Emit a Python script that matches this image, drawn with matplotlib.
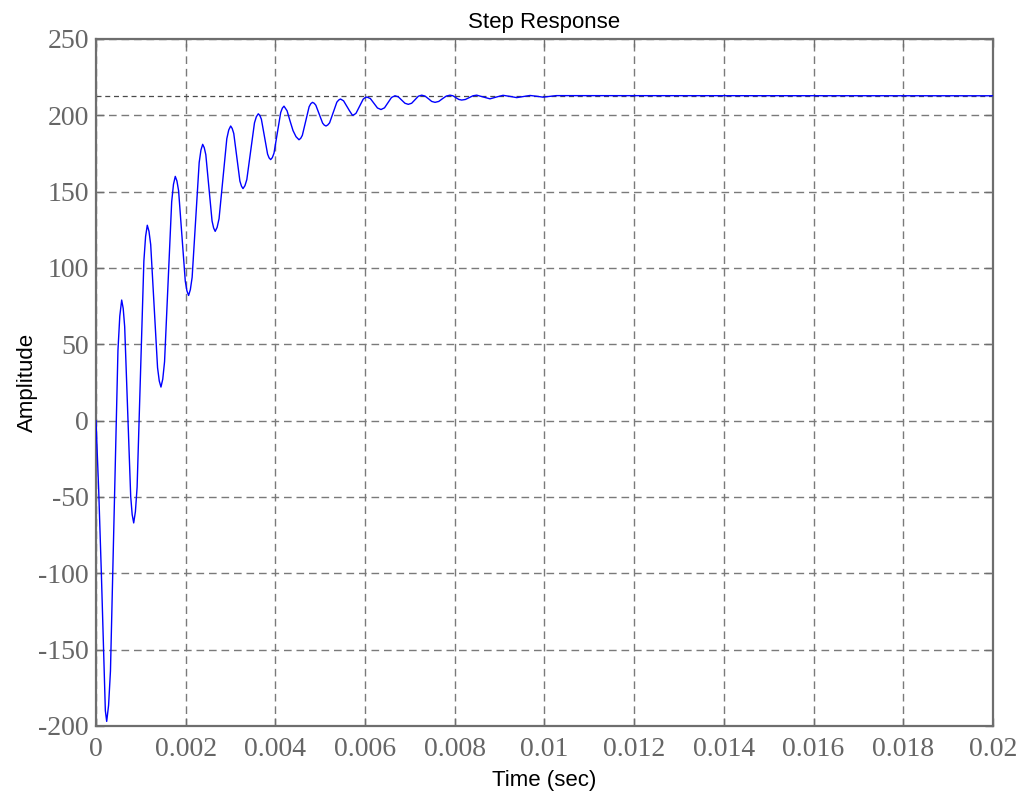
import numpy as np
import matplotlib.pyplot as plt

plt.rcParams['axes.unicode_minus'] = False

# Step response samples (time in ms, amplitude)
t_ms = [0.0, 0.06, 0.12, 0.18, 0.209, 0.239,
        0.281, 0.323, 0.406, 0.490, 0.531, 0.573,
        0.607, 0.640, 0.707, 0.774, 0.807, 0.841,
        0.879, 0.917, 0.993, 1.068, 1.106, 1.144,
        1.182, 1.220, 1.297, 1.373, 1.411, 1.449,
        1.489, 1.529, 1.609, 1.688, 1.728, 1.768,
        1.805, 1.842, 1.917, 1.991, 2.028, 2.065,
        2.104, 2.144, 2.222, 2.301, 2.340, 2.379,
        2.414, 2.449, 2.519, 2.588, 2.623, 2.658,
        2.701, 2.744, 2.831, 2.917, 2.960, 3.003,
        3.037, 3.072, 3.141, 3.209, 3.244, 3.278,
        3.321, 3.363, 3.449, 3.534, 3.576, 3.619,
        3.654, 3.688, 3.757, 3.826, 3.860, 3.895,
        3.932, 3.969, 4.044, 4.118, 4.155, 4.192,
        4.26, 4.33, 4.393, 4.46, 4.526,
        4.564, 4.601, 4.677, 4.752, 4.789, 4.827,
        4.865, 4.902, 4.978, 5.053, 5.090, 5.128,
        5.168, 5.209, 5.290, 5.370, 5.411, 5.451,
        5.52, 5.59, 5.652, 5.719,
        5.759, 5.799, 5.879, 5.958, 5.998, 6.038,
        6.117, 6.197, 6.276, 6.355,
        6.433, 6.511, 6.589, 6.667,
        6.741, 6.815, 6.889, 6.963,
        7.038, 7.113, 7.187, 7.262,
        7.336, 7.411, 7.485, 7.559,
        7.643, 7.726, 7.810, 7.893,
        7.958, 8.024, 8.089, 8.154,
        8.238, 8.321, 8.405, 8.488,
        8.64, 8.785, 8.93, 9.075,
        9.23, 9.380, 9.53, 9.677,
        9.82, 9.967, 10.11, 10.26,
        20.0]
amp = [0, -45, -100, -160, -190, -197,
       -186.5, -164, -59, 46, 68.5, 79,
       73.5, 61.5, 6, -49.5, -61.5, -67,
       -59.6, -43.6, 30.5, 104.6, 120.6, 128,
       124, 115.3, 75, 34.7, 26, 22,
       27.2, 38.6, 91, 143.4, 154.8, 160,
       157, 150.6, 121, 91.4, 85, 82,
       85.8, 93.9, 131.5, 169.1, 177.2, 181,
       178.8, 174.2, 152.5, 130.8, 126.2, 124,
       126.6, 132.3, 158.5, 184.7, 190.4, 193,
       191.4, 188.1, 172.5, 156.9, 153.6, 152,
       153.9, 157.9, 176.5, 195.1, 199.1, 201,
       199.9, 197.4, 186, 174.6, 172.1, 171,
       172.3, 175.2, 188.5, 201.8, 204.7, 206,
       203, 196, 190, 186, 184,
       184.9, 186.9, 196.3, 205.6, 207.6, 208.5,
       207.9, 206.6, 200.8, 194.9, 193.6, 193,
       193.7, 195.1, 201.9, 208.6, 210, 210.7,
       209.5, 206, 203, 200,
       200.5, 201.4, 206, 210.6, 211.5, 212,
       211, 207.9, 204.8, 203.8,
       204.9, 208.3, 211.7, 212.8,
       212.1, 210, 207.9, 207.2,
       207.9, 210.2, 212.5, 213.2,
       212.6, 210.9, 209.1, 208.5,
       209.1, 210.9, 212.6, 213.2,
       212.8, 211.6, 210.4, 210,
       210.4, 211.6, 212.8, 213.2,
       212.0, 210.8, 212.0, 213.1,
       212.4, 211.6, 212.3, 213.0,
       212.5, 211.9, 212.4, 212.9,
       212.8]
final_value = 212.8

x_ticks = [0, 0.002, 0.004, 0.006, 0.008, 0.01, 0.012, 0.014, 0.016, 0.018, 0.02]
x_labels = ["0", "0.002", "0.004", "0.006", "0.008", "0.01", "0.012", "0.014", "0.016", "0.018", "0.02"]
y_ticks = list(range(-200, 251, 50))

t = np.array(t_ms) / 1000.0

fig = plt.figure(figsize=(10.21, 7.99), dpi=100)
ax = fig.add_axes([0.094, 0.0914, 0.8786, 0.8598])

frame_col = "#6e6e6e"
ax.grid(True, color="#7a7a7a", linestyle=(0, (5.5, 3.5)), linewidth=1.0)
ax.axhline(final_value, color="#4a4a4a", linestyle=(0, (4, 3)), linewidth=0.9, zorder=2)
ax.plot(t, amp, color="#0000ff", linewidth=1.0, zorder=3)

ax.set_xlim(0, 0.02)
ax.set_ylim(-200, 250)
ax.set_xticks(x_ticks)
ax.set_xticklabels(x_labels)
ax.set_yticks(y_ticks)

for s in ax.spines.values():
    s.set_color(frame_col)
    s.set_linewidth(1.6)

ax.tick_params(direction="in", length=6, width=1, color=frame_col,
               top=True, right=True, labelcolor="#666666", labelsize=20)
ax.tick_params(axis="x", pad=8)
ax.tick_params(axis="y", pad=5)
for lab in ax.get_xticklabels() + ax.get_yticklabels():
    lab.set_family("Liberation Serif")

ax.set_title("Step Response", fontsize=16, family="Liberation Sans", pad=8)
ax.set_xlabel("Time (sec)", fontsize=16, family="Liberation Sans", labelpad=6)
ax.set_ylabel("Amplitude", fontsize=16, family="Liberation Sans", labelpad=0)

fig.savefig("out.png", dpi=100)
